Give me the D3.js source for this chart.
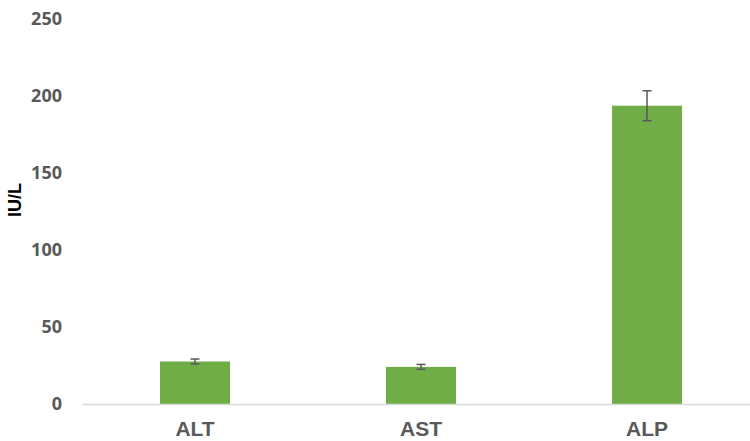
<!DOCTYPE html>
<html>
<head>
<meta charset="utf-8">
<script src="https://cdn.jsdelivr.net/npm/d3@7"></script>
<style>
  body { margin: 0; background: #fff; }
  #chart text { font-family: "Open Sans", "Liberation Sans", sans-serif; }
</style>
</head>
<body>
<div id="chart"></div>
<script>
// enzyme levels with error bars
const CATEGORIES = ["ALT", "AST", "ALP"];
const VALUES = [27.6, 24.1, 193.7];
const ERRORS = [1.6, 1.6, 9.7];
const Y_TICKS = [0, 50, 100, 150, 200, 250];

const width = 750, height = 441;
const margin = { top: 19, left: 82, bottom: 37 };

const svg = d3.select('#chart')
    .append('svg')
    .attr('width', width)
    .attr('height', height);

// band scale runs a little past the right edge, like the source
const xScale = d3.scaleBand()
    .domain(CATEGORIES)
    .range([margin.left, 760])
    .paddingInner(0.69)
    .paddingOuter(0.345);

const yScale = d3.scaleLinear()
    .domain([0, 250])
    .range([height - margin.bottom, margin.top]);

// y tick labels (no axis line, no gridlines)
svg.append('g')
    .selectAll('text')
    .data(Y_TICKS)
    .enter()
    .append('text')
    .attr('x', 62)
    .attr('y', d => yScale(d))
    .attr('dy', '0.36em')
    .attr('text-anchor', 'end')
    .style('font-size', '18px')
    .style('font-weight', '700')
    .style('fill', '#595959')
    .text(d => d);

// bars
svg.selectAll('.bar')
    .data(VALUES)
    .enter()
    .append('rect')
    .attr('class', 'bar')
    .attr('x', (d, i) => xScale(CATEGORIES[i]))
    .attr('y', d => yScale(d))
    .attr('width', xScale.bandwidth())
    .attr('height', d => yScale(0) - yScale(d))
    .style('fill', '#70ad47');

// error bars
const errG = svg.append('g')
    .selectAll('g')
    .data(VALUES)
    .enter()
    .append('g')
    .style('stroke', '#595959')
    .style('stroke-width', 1.5);

const cx = (i) => xScale(CATEGORIES[i]) + xScale.bandwidth() / 2;

errG.append('line')
    .attr('x1', (d, i) => cx(i)).attr('x2', (d, i) => cx(i))
    .attr('y1', (d, i) => yScale(d + ERRORS[i]))
    .attr('y2', (d, i) => yScale(d - ERRORS[i]));
errG.append('line')
    .attr('x1', (d, i) => cx(i) - 4.5).attr('x2', (d, i) => cx(i) + 4.5)
    .attr('y1', (d, i) => yScale(d + ERRORS[i]))
    .attr('y2', (d, i) => yScale(d + ERRORS[i]));
errG.append('line')
    .attr('x1', (d, i) => cx(i) - 4.5).attr('x2', (d, i) => cx(i) + 4.5)
    .attr('y1', (d, i) => yScale(d - ERRORS[i]))
    .attr('y2', (d, i) => yScale(d - ERRORS[i]));

// x axis
const xAxis = svg.append('g')
    .attr('transform', `translate(0,${yScale(0)})`)
    .call(d3.axisBottom(xScale).tickSize(0).tickPadding(17));
xAxis.select('.domain')
    .attr('d', `M${margin.left},0.5H760`)
    .style('stroke', '#d9d9d9')
    .style('stroke-width', 1.5);
xAxis.selectAll('text')
    .style('font-size', '21px')
    .style('font-weight', '700')
    .style('fill', '#595959')
    .style('font-family', '"Liberation Sans", Arial, sans-serif');

// y axis title
svg.append('text')
    .attr('transform', 'rotate(-90)')
    .attr('x', -200)
    .attr('y', 15)
    .attr('dy', '0.36em')
    .attr('text-anchor', 'middle')
    .style('font-size', '18px')
    .style('font-weight', '700')
    .style('font-family', '"Liberation Sans", Arial, sans-serif')
    .style('fill', '#000')
    .text('IU/L');
</script>
</body>
</html>
